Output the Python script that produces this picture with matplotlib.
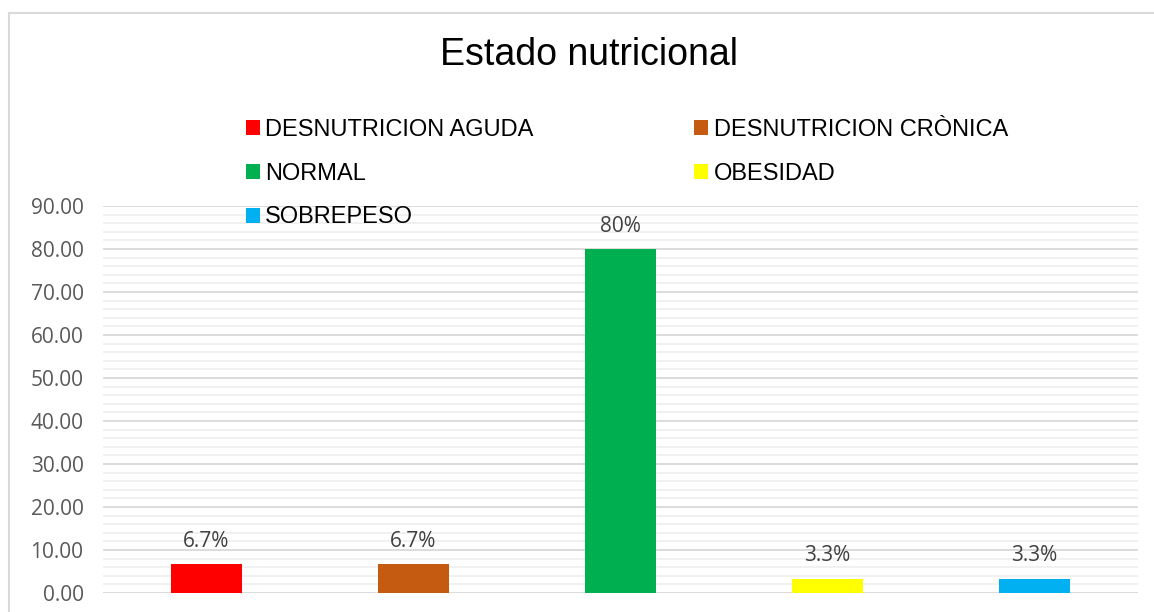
import numpy as np
import matplotlib.pyplot as plt
from matplotlib.lines import Line2D

# data
categories = ["DESNUTRICION AGUDA", "DESNUTRICION CRÒNICA", "NORMAL", "OBESIDAD", "SOBREPESO"]
values = [6.67, 6.67, 80.0, 3.33, 3.33]
value_labels = ["6.7%", "6.7%", "80%", "3.3%", "3.3%"]
colors = ["#FF0000", "#C55A11", "#00B050", "#FFFF00", "#00B0F0"]
y_ticks = [0, 10, 20, 30, 40, 50, 60, 70, 80, 90]

W, H = 1154, 612
fig = plt.figure(figsize=(W / 100, H / 100), dpi=100)

# plot area
ax = fig.add_axes([103 / W, 1 - 593 / H, (1138 - 103) / W, (593 - 206) / H])
x = np.arange(len(categories))
bars = []
for i in range(len(categories)):
    b = ax.bar(x[i], values[i], width=0.34, color=colors[i], label=categories[i], zorder=3)
    bars.append(b)
    ax.text(x[i], values[i] + 2.9, value_labels[i], ha="center", va="bottom",
            fontsize=15, family="Open Sans", color="#404040")

ax.set_xlim(-0.5, len(categories) - 0.5)
ax.set_ylim(0, 90)
ax.set_yticks(y_ticks)
ax.set_yticklabels(["%.2f" % v for v in y_ticks], fontsize=15, family="Open Sans", color="#595959")
ax.set_yticks(np.arange(0, 91, 2), minor=True)
ax.set_xticks([])
ax.tick_params(axis="y", which="both", length=0, pad=14)
ax.grid(axis="y", which="major", color="#D9D9D9", linewidth=1.3, zorder=0)
ax.grid(axis="y", which="minor", color="#F0F0F0", linewidth=1.3, zorder=0)
for s in ax.spines.values():
    s.set_visible(False)

# title
fig.text(589 / W, 1 - 55 / H, "Estado nutricional", ha="center", va="center",
         fontsize=27, family="Liberation Sans", color="black")

# legend, reordered so that column-wise fill gives row-wise order
order = [0, 2, 4, 1, 3]
leg = fig.legend([bars[i] for i in order], [categories[i] for i in order],
                 ncol=2, loc="upper left", bbox_to_anchor=(246 / W, 1 - 119 / H),
                 frameon=False, prop={"family": "Liberation Sans", "size": 17},
                 handlelength=0.6, handleheight=0.6, handletextpad=0.22,
                 columnspacing=6.8, labelspacing=0.92, borderpad=0, borderaxespad=0)

# chart border
fig.add_artist(Line2D([8.5 / W, 1], [1 - 13 / H, 1 - 13 / H], color="#D9D9D9", lw=1.5))
fig.add_artist(Line2D([8.5 / W, 8.5 / W], [0, 1 - 13 / H], color="#D9D9D9", lw=1.5))

fig.savefig("out.png", dpi=100)
